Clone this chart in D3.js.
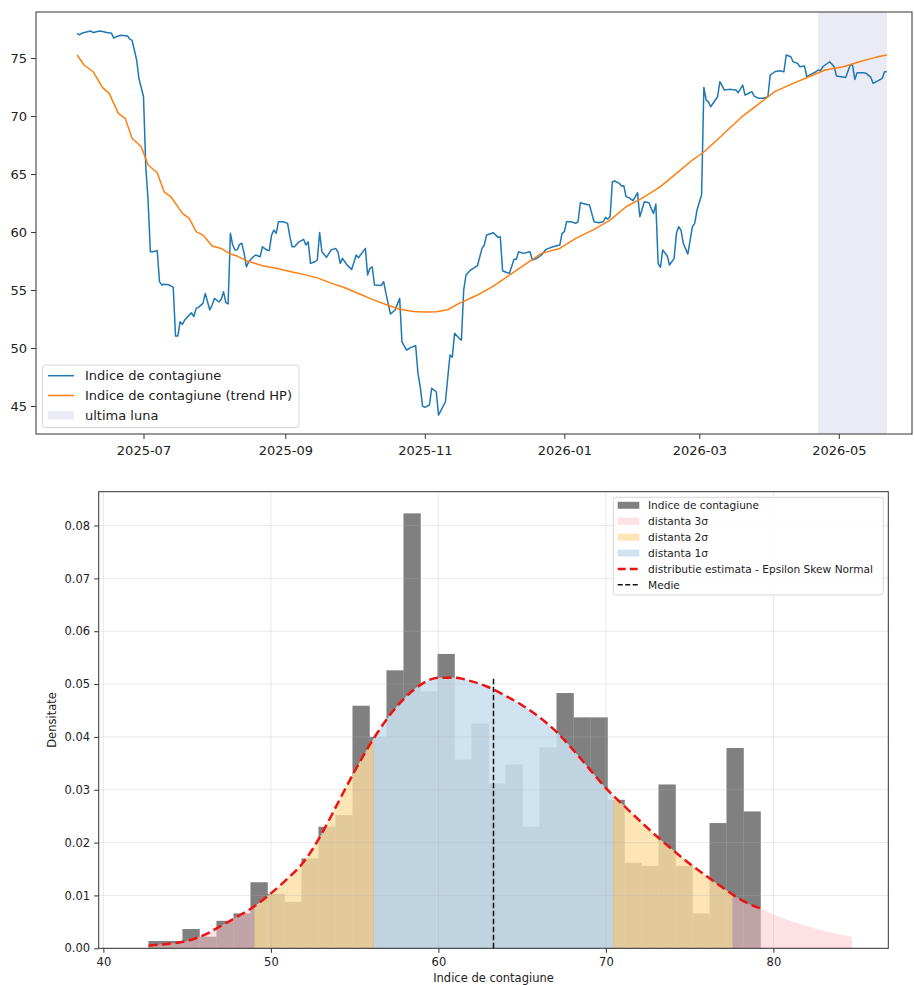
<!DOCTYPE html>
<html>
<head>
<meta charset="utf-8">
<script src="https://cdn.jsdelivr.net/npm/d3@7"></script>
<style>
  body { margin: 0; background: #fff; }
  #chart { width: 914px; height: 985px; }
  text { font-family: "DejaVu Sans", sans-serif; fill: #222; }
</style>
</head>
<body>
<div id="chart"></div>
<script>

/* TOP CHART DATA: daily index and its HP trend */
const seriesDates = [
  "2025-06-02","2025-06-03","2025-06-04","2025-06-06","2025-06-08","2025-06-09","2025-06-12","2025-06-15","2025-06-17","2025-06-18",
  "2025-06-19","2025-06-21","2025-06-23","2025-06-24","2025-06-25","2025-06-26","2025-06-28","2025-06-29","2025-07-01","2025-07-02",
  "2025-07-03","2025-07-04","2025-07-05","2025-07-07","2025-07-08","2025-07-09","2025-07-10","2025-07-12","2025-07-14","2025-07-15",
  "2025-07-16","2025-07-17","2025-07-18","2025-07-19","2025-07-21","2025-07-22","2025-07-23","2025-07-24","2025-07-25","2025-07-27",
  "2025-07-28","2025-07-29","2025-07-30","2025-07-31","2025-08-01","2025-08-03","2025-08-04","2025-08-05","2025-08-06","2025-08-07",
  "2025-08-08","2025-08-09","2025-08-10","2025-08-11","2025-08-12","2025-08-13","2025-08-14","2025-08-15","2025-08-16","2025-08-18",
  "2025-08-19","2025-08-21","2025-08-22","2025-08-24","2025-08-25","2025-08-26","2025-08-27","2025-08-28","2025-08-29","2025-08-31",
  "2025-09-02","2025-09-03","2025-09-04","2025-09-05","2025-09-07","2025-09-09","2025-09-10","2025-09-11","2025-09-12","2025-09-14",
  "2025-09-15","2025-09-16","2025-09-17","2025-09-19","2025-09-21","2025-09-23","2025-09-24","2025-09-25","2025-09-26","2025-09-28",
  "2025-09-30","2025-10-02","2025-10-03","2025-10-06","2025-10-07","2025-10-08","2025-10-09","2025-10-10","2025-10-13","2025-10-14",
  "2025-10-15","2025-10-17","2025-10-19","2025-10-21","2025-10-22","2025-10-24","2025-10-26","2025-10-28","2025-10-29","2025-10-30",
  "2025-10-31","2025-11-01","2025-11-03","2025-11-04","2025-11-06","2025-11-07","2025-11-10","2025-11-12","2025-11-13","2025-11-14",
  "2025-11-16","2025-11-17","2025-11-18","2025-11-19","2025-11-21","2025-11-24","2025-11-26","2025-11-27","2025-11-28","2025-12-01",
  "2025-12-03","2025-12-04","2025-12-05","2025-12-07","2025-12-08","2025-12-10","2025-12-11","2025-12-12","2025-12-14","2025-12-17",
  "2025-12-18","2025-12-20","2025-12-22","2025-12-24","2025-12-27","2025-12-30","2025-12-31","2026-01-01","2026-01-02","2026-01-04",
  "2026-01-06","2026-01-07","2026-01-08","2026-01-10","2026-01-12","2026-01-14","2026-01-16","2026-01-18","2026-01-19","2026-01-20",
  "2026-01-21","2026-01-22","2026-01-23","2026-01-25","2026-01-26","2026-01-27","2026-01-28","2026-01-29","2026-01-31","2026-02-01",
  "2026-02-02","2026-02-03","2026-02-04","2026-02-05","2026-02-07","2026-02-08","2026-02-09","2026-02-10","2026-02-11","2026-02-12",
  "2026-02-13","2026-02-15","2026-02-16","2026-02-18","2026-02-19","2026-02-20","2026-02-21","2026-02-22","2026-02-24","2026-02-25",
  "2026-02-26","2026-02-27","2026-02-28","2026-03-02","2026-03-03","2026-03-04","2026-03-05","2026-03-06","2026-03-08","2026-03-09",
  "2026-03-10","2026-03-12","2026-03-14","2026-03-17","2026-03-18","2026-03-20","2026-03-21","2026-03-23","2026-03-24","2026-03-25",
  "2026-03-27","2026-03-29","2026-03-31","2026-04-01","2026-04-03","2026-04-05","2026-04-07","2026-04-08","2026-04-10","2026-04-11",
  "2026-04-13","2026-04-14","2026-04-16","2026-04-17","2026-04-19","2026-04-21","2026-04-22","2026-04-23","2026-04-24","2026-04-25",
  "2026-04-27","2026-04-29","2026-04-30","2026-05-02","2026-05-04","2026-05-06","2026-05-07","2026-05-08","2026-05-09","2026-05-12",
  "2026-05-13","2026-05-15","2026-05-16","2026-05-18","2026-05-20","2026-05-21","2026-05-22"
];
const seriesValues = [
  77.13,77.0,77.13,77.24,77.33,77.2,77.33,77.2,77.13,76.72,
  76.84,76.96,76.93,76.9,76.64,76.52,74.83,73.25,71.66,65.63,
  62.76,58.3,58.3,58.4,55.72,55.43,55.5,55.46,55.23,51.03,
  51.03,52.27,52.04,52.41,52.84,53.04,52.7,53.42,53.51,53.85,
  54.71,53.99,53.28,53.71,54.28,53.97,54.2,54.85,53.91,53.8,
  59.89,58.88,58.45,58.47,58.94,59.03,58.16,57.0,57.44,57.87,
  58.02,57.87,58.73,58.45,58.4,59.74,60.17,59.89,60.89,60.89,
  60.75,59.6,58.73,58.73,59.16,59.37,58.88,59.16,57.3,57.44,
  57.59,59.97,58.3,57.82,58.45,58.59,58.3,57.3,57.73,57.16,
  56.78,58.02,57.79,58.59,56.29,56.87,57.0,55.43,55.4,55.72,
  54.71,52.93,53.28,54.28,50.54,49.83,50.06,50.2,47.82,46.66,
  45.0,44.89,45.09,46.53,46.23,44.22,45.37,49.4,49.2,51.27,
  50.84,50.69,55.0,56.29,56.72,57.1,58.59,58.88,59.74,59.94,
  59.54,59.6,56.66,56.49,56.44,57.65,57.65,58.3,58.16,58.3,
  57.59,57.73,58.02,58.51,58.73,58.88,59.89,60.03,60.89,60.89,
  60.75,60.89,62.53,62.41,62.33,60.89,60.8,60.89,61.27,61.12,
  61.32,64.34,64.4,64.2,63.97,64.0,63.04,62.99,62.7,63.04,
  63.39,61.32,61.96,62.61,62.53,62.04,61.61,62.41,57.3,56.96,
  58.45,57.93,57.16,57.73,59.89,60.46,60.17,59.03,58.1,59.31,
  60.46,60.75,61.9,63.19,72.47,71.38,71.23,70.8,71.38,71.66,
  72.96,72.24,72.3,72.24,72.01,72.67,71.81,72.01,72.1,71.72,
  71.53,71.53,71.66,73.53,73.82,73.91,73.82,75.26,75.11,74.68,
  74.54,74.25,74.31,73.39,73.62,73.82,73.97,73.91,74.25,74.4,
  74.68,74.25,73.45,73.39,73.33,74.4,74.4,73.16,73.73,73.73,
  73.68,73.33,72.82,73.04,73.25,73.82,73.82
];

const trendDates = [
  "2025-06-02","2025-06-05","2025-06-09","2025-06-13","2025-06-16","2025-06-20","2025-06-23","2025-06-26","2025-06-30","2025-07-03",
  "2025-07-07","2025-07-10","2025-07-13","2025-07-18","2025-07-21","2025-07-24","2025-07-27","2025-07-31","2025-08-04","2025-08-08",
  "2025-08-11","2025-08-15","2025-08-22","2025-08-28","2025-09-03","2025-09-09","2025-09-15","2025-09-21","2025-09-27","2025-10-03",
  "2025-10-09","2025-10-15","2025-10-21","2025-10-27","2025-11-01","2025-11-06","2025-11-11","2025-11-16","2025-11-24","2025-12-01",
  "2025-12-08","2025-12-15","2025-12-22","2025-12-30","2026-01-06","2026-01-14","2026-01-21","2026-01-28","2026-02-05","2026-02-12",
  "2026-02-19","2026-02-26","2026-03-03","2026-03-08","2026-03-14","2026-03-20","2026-03-28","2026-04-03","2026-04-11","2026-04-18",
  "2026-04-25","2026-05-03","2026-05-10","2026-05-17","2026-05-22"
];
const trendValues = [
  75.26,74.4,73.82,72.47,71.96,70.23,69.8,68.08,67.35,65.78,
  65.11,63.47,63.04,61.61,61.18,60.03,59.74,58.79,58.59,58.1,
  57.93,57.53,57.1,56.87,56.6,56.35,56.05,55.6,55.2,54.7,
  54.2,53.75,53.35,53.15,53.1,53.13,53.3,53.85,54.57,55.34,
  56.29,57.24,58.16,58.59,59.46,60.23,61.03,62.18,63.04,63.91,
  65.06,66.21,66.9,67.8,68.9,70.0,71.2,72.1,72.82,73.39,
  73.97,74.25,74.68,75.06,75.26
];

const lastMonth = ["2026-04-22", "2026-05-22"];
const topXTicks = ["2025-07-01","2025-09-01","2025-11-01","2026-01-01","2026-03-01","2026-05-01"];
const topYTicks = [45, 50, 55, 60, 65, 70, 75];

/* BOTTOM CHART DATA: histogram (density) and fitted distribution */
const histRange = [42.69, 79.23];
const histDensity = [
  0.00138,0.00138,0.00365,0.0022,0.0052,0.0066,0.0125,0.0103,0.0088,0.0170,
  0.0230,0.0252,0.0459,0.0400,0.0526,0.0823,0.0486,0.0557,0.0357,0.0425,
  0.0312,0.0348,0.0230,0.0380,0.0483,0.0437,0.0437,0.0281,0.0162,0.0156,
  0.0310,0.0156,0.0066,0.0237,0.0379,0.0259
];
const pdfX = [42.7,43,44,45,46,47,48,49,50,51,52,53,54,55,56,57,58,59,60,61,62,63,64,65,66,67,68,69,70,71,72,73,74,75,76,77,78,79,79.2,80,81,82,83,84,84.7];
const pdfY = [
  0.0005,0.0006,0.0009,0.0014,0.0025,0.0042,0.006,0.0079,0.0104,0.0132,
  0.0165,0.0215,0.0275,0.0335,0.039,0.0437,0.0474,0.0500,0.0512,0.0512,
  0.0505,0.0494,0.0478,0.046,0.0438,0.0411,0.0377,0.034,0.0303,0.0272,
  0.0242,0.0213,0.0186,0.016,0.0137,0.0114,0.0093,0.0078,0.0076,0.0064,
  0.0052,0.0042,0.0033,0.0026,0.0021
];
const mean = 63.29;
const sigma = 7.14;
const bottomXTicks = [40, 50, 60, 70, 80];
const bottomYTicks = [0, 0.01, 0.02, 0.03, 0.04, 0.05, 0.06, 0.07, 0.08];


const width = 914, height = 985;
const svg = d3.select("#chart").append("svg")
    .attr("width", width)
    .attr("height", height);
const defs = svg.append("defs");
const parse = d3.timeParse("%Y-%m-%d");
const frameColor = "#333";

/* ================= TOP CHART ================= */
const t = { left: 36, right: 912, top: 12, bottom: 434 };

const xTop = d3.scaleTime()
    .domain([parse("2025-05-15"), parse("2026-06-02")])
    .range([t.left, t.right]);
const yTop = d3.scaleLinear()
    .domain([42.59, 78.97])
    .range([t.bottom, t.top]);

const series = seriesDates.map((d, i) => ({ date: parse(d), value: seriesValues[i] }));
const trend = trendDates.map((d, i) => ({ date: parse(d), value: trendValues[i] }));

// last month shading
svg.append("rect")
    .attr("x", xTop(parse(lastMonth[0])))
    .attr("y", t.top)
    .attr("width", xTop(parse(lastMonth[1])) - xTop(parse(lastMonth[0])))
    .attr("height", t.bottom - t.top)
    .attr("fill", "#eaebf4");

const lineTop = d3.line()
    .x(d => xTop(d.date))
    .y(d => yTop(d.value));

svg.append("path")
    .datum(series)
    .attr("d", lineTop)
    .attr("fill", "none")
    .attr("stroke", "#1f77b4")
    .attr("stroke-width", 1.5)
    .attr("stroke-linejoin", "round");

svg.append("path")
    .datum(trend)
    .attr("d", lineTop)
    .attr("fill", "none")
    .attr("stroke", "#ff7f0e")
    .attr("stroke-width", 1.5)
    .attr("stroke-linejoin", "round");

// axes
const topXAxis = svg.append("g")
    .attr("transform", `translate(0,${t.bottom})`)
    .call(d3.axisBottom(xTop)
        .tickValues(topXTicks.map(parse))
        .tickFormat(d3.timeFormat("%Y-%m"))
        .tickSize(5).tickPadding(6.5));
const topYAxis = svg.append("g")
    .attr("transform", `translate(${t.left},0)`)
    .call(d3.axisLeft(yTop).tickValues(topYTicks).tickSize(5).tickPadding(4));
[topXAxis, topYAxis].forEach(g => {
    g.select(".domain").remove();
    g.selectAll("line").attr("stroke", frameColor);
    g.selectAll("text").attr("font-size", 13).style("fill", "#222");
});

svg.append("rect")
    .attr("x", t.left).attr("y", t.top)
    .attr("width", t.right - t.left).attr("height", t.bottom - t.top)
    .attr("fill", "none").attr("stroke", frameColor).attr("stroke-width", 1);

// legend
const legTop = svg.append("g");
legTop.append("rect")
    .attr("x", 42.5).attr("y", 365).attr("width", 256.5).attr("height", 62.5)
    .attr("rx", 3)
    .attr("fill", "#fff").attr("fill-opacity", 0.8)
    .attr("stroke", "#d6d6d6");
const topItems = [
    { label: "Indice de contagiune", type: "line", color: "#1f77b4" },
    { label: "Indice de contagiune (trend HP)", type: "line", color: "#ff7f0e" },
    { label: "ultima luna", type: "patch", color: "#eaebf4" }
];
topItems.forEach((d, i) => {
    const cy = 375.7 + i * 19.8;
    if (d.type === "line") {
        legTop.append("line")
            .attr("x1", 48).attr("x2", 74).attr("y1", cy).attr("y2", cy)
            .attr("stroke", d.color).attr("stroke-width", 1.5);
    } else {
        legTop.append("rect")
            .attr("x", 48).attr("y", cy - 4).attr("width", 26).attr("height", 8)
            .attr("fill", d.color);
    }
    legTop.append("text")
        .attr("x", 85).attr("y", cy)
        .attr("dy", "0.35em")
        .attr("font-size", 13)
        .text(d.label);
});

/* ================= BOTTOM CHART ================= */
const b = { left: 98.7, right: 888.3, top: 491.7, bottom: 948.3 };

const xB = d3.scaleLinear()
    .domain([39.72, 86.86])
    .range([b.left, b.right]);
const yB = d3.scaleLinear()
    .domain([0, 0.0864])
    .range([b.bottom, b.top]);

// histogram bars
const nBins = histDensity.length;
const binW = (histRange[1] - histRange[0]) / nBins;
const bins = histDensity.map((h, i) => ({
    x0: histRange[0] + i * binW,
    x1: histRange[0] + (i + 1) * binW,
    h: h
}));

svg.append("g")
    .selectAll("rect")
    .data(bins)
    .enter()
    .append("rect")
        .attr("x", d => xB(d.x0))
        .attr("width", d => xB(d.x1) - xB(d.x0) + 0.3)
        .attr("y", d => yB(d.h))
        .attr("height", d => yB(0) - yB(d.h))
        .attr("fill", "#808080");

// filled sigma regions under the fitted curve
const pdfPoints = pdfX.map((x, i) => ({ x: x, y: pdfY[i] }));
const area = d3.area()
    .x(d => xB(d.x))
    .y0(yB(0))
    .y1(d => yB(d.y))
    .curve(d3.curveMonotoneX);

const pink = { color: "rgb(251,196,202)", op: 0.51 };
const yellow = { color: "rgb(252,222,161)", op: 0.79 };
const blue = { color: "rgb(200,223,239)", op: 0.87 };

const regions = [
    { lo: mean - 3 * sigma, hi: mean - 2 * sigma, style: pink },
    { lo: mean - 2 * sigma, hi: mean - sigma, style: yellow },
    { lo: mean - sigma, hi: mean + sigma, style: blue },
    { lo: mean + sigma, hi: mean + 2 * sigma, style: yellow },
    { lo: mean + 2 * sigma, hi: mean + 3 * sigma, style: pink }
];
regions.forEach((r, i) => {
    const id = "region" + i;
    defs.append("clipPath").attr("id", id)
        .append("rect")
        .attr("x", xB(r.lo)).attr("y", b.top)
        .attr("width", xB(r.hi) - xB(r.lo)).attr("height", b.bottom - b.top);
    svg.append("path")
        .datum(pdfPoints)
        .attr("d", area)
        .attr("clip-path", `url(#${id})`)
        .attr("fill", r.style.color)
        .attr("fill-opacity", r.style.op);
});

// grid
const grid = svg.append("g").attr("stroke", "#b0b0b0").attr("stroke-opacity", 0.35).attr("stroke-width", 0.8);
bottomXTicks.forEach(v => {
    grid.append("line").attr("x1", xB(v)).attr("x2", xB(v)).attr("y1", b.top).attr("y2", b.bottom);
});
bottomYTicks.forEach(v => {
    grid.append("line").attr("x1", b.left).attr("x2", b.right).attr("y1", yB(v)).attr("y2", yB(v));
});

// fitted curve, drawn over the data range
const lineB = d3.line()
    .x(d => xB(d.x))
    .y(d => yB(d.y))
    .curve(d3.curveMonotoneX);
svg.append("path")
    .datum(pdfPoints.filter(d => d.x <= histRange[1]))
    .attr("d", lineB)
    .attr("fill", "none")
    .attr("stroke", "#ee1111")
    .attr("stroke-width", 2.5)
    .attr("stroke-dasharray", "9,4.5");

// mean line
svg.append("line")
    .attr("x1", xB(mean)).attr("x2", xB(mean))
    .attr("y1", yB(0)).attr("y2", yB(d3.max(pdfY)))
    .attr("stroke", "#111")
    .attr("stroke-width", 1.5)
    .attr("stroke-dasharray", "5.5,2.5");

// axes
const bXAxis = svg.append("g")
    .attr("transform", `translate(0,${b.bottom})`)
    .call(d3.axisBottom(xB).tickValues(bottomXTicks).tickSize(4.5).tickPadding(4.9));
const bYAxis = svg.append("g")
    .attr("transform", `translate(${b.left},0)`)
    .call(d3.axisLeft(yB).tickValues(bottomYTicks).tickFormat(d3.format(".2f")).tickSize(4.5).tickPadding(4.2));
[bXAxis, bYAxis].forEach(g => {
    g.select(".domain").remove();
    g.selectAll("line").attr("stroke", frameColor);
    g.selectAll("text").attr("font-size", 11.5).style("fill", "#222");
});

svg.append("rect")
    .attr("x", b.left).attr("y", b.top)
    .attr("width", b.right - b.left).attr("height", b.bottom - b.top)
    .attr("fill", "none").attr("stroke", frameColor).attr("stroke-width", 1);

svg.append("text")
    .attr("x", (b.left + b.right) / 2)
    .attr("y", 982)
    .attr("text-anchor", "middle")
    .attr("font-size", 11.5)
    .text("Indice de contagiune");

svg.append("text")
    .attr("transform", `translate(56,${(b.top + b.bottom) / 2}) rotate(-90)`)
    .attr("text-anchor", "middle")
    .attr("font-size", 11.5)
    .text("Densitate");

// legend
const legB = svg.append("g");
legB.append("rect")
    .attr("x", 613.3).attr("y", 497.3).attr("width", 270).attr("height", 97.7)
    .attr("rx", 2.5)
    .attr("fill", "#fff").attr("fill-opacity", 0.8)
    .attr("stroke", "#d6d6d6");
const bItems = [
    { label: "Indice de contagiune", type: "patch", color: "#808080", op: 1 },
    { label: "distanta 3σ", type: "patch", color: pink.color, op: pink.op },
    { label: "distanta 2σ", type: "patch", color: yellow.color, op: yellow.op },
    { label: "distanta 1σ", type: "patch", color: blue.color, op: blue.op },
    { label: "distributie estimata - Epsilon Skew Normal", type: "red" },
    { label: "Medie", type: "black" }
];
bItems.forEach((d, i) => {
    const cy = 505.3 + i * 15.9;
    if (d.type === "patch") {
        legB.append("rect")
            .attr("x", 617.7).attr("y", cy - 3.5).attr("width", 21.6).attr("height", 7)
            .attr("fill", d.color).attr("fill-opacity", d.op);
    } else if (d.type === "red") {
        legB.append("line")
            .attr("x1", 617.7).attr("x2", 639.3).attr("y1", cy).attr("y2", cy)
            .attr("stroke", "#ee1111").attr("stroke-width", 2.5)
            .attr("stroke-dasharray", "8,4");
    } else {
        legB.append("line")
            .attr("x1", 617.7).attr("x2", 639.3).attr("y1", cy).attr("y2", cy)
            .attr("stroke", "#111").attr("stroke-width", 1.5)
            .attr("stroke-dasharray", "5,2.5");
    }
    legB.append("text")
        .attr("x", 648).attr("y", cy)
        .attr("dy", "0.35em")
        .attr("font-size", 10.6)
        .text(d.label);
});

</script>
</body>
</html>
